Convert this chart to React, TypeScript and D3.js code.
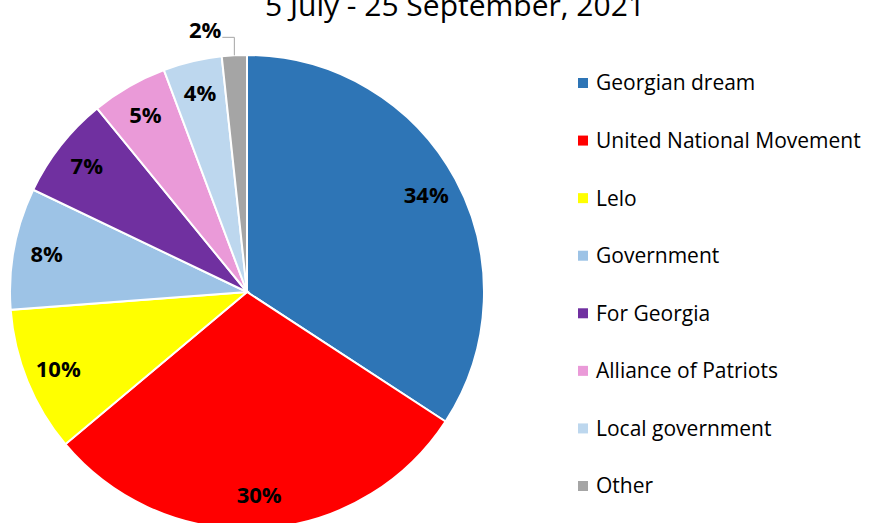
import React from "react";
import * as d3 from "d3";

const categories = [
  "Georgian dream",
  "United National Movement",
  "Lelo",
  "Government",
  "For Georgia",
  "Alliance of Patriots",
  "Local government",
  "Other",
];
const values = [34.2, 29.7, 9.9, 8.3, 7.0, 5.2, 4.0, 1.7];
const labels = ["34%", "30%", "10%", "8%", "7%", "5%", "4%", "2%"];
const colors = ["#2E75B6", "#FF0000", "#FFFF00", "#9DC3E6", "#7030A0", "#EA9AD8", "#BDD7EE", "#A5A5A5"];
const title = "5 July - 25 September, 2021";

const W = 871;
const H = 523;
const FONT = "'Open Sans', 'Noto Sans', sans-serif";

export default function App() {
  const cx = 247;
  const cy = 292;
  const r = 237;
  const data = categories.map((c, i) => ({ c, v: values[i], label: labels[i], color: colors[i] }));
  const pie = d3.pie<any>().value((d) => d.v).sort(null);
  const arcs = pie(data);
  const arc = d3.arc<any>().innerRadius(0).outerRadius(r);
  const labelArc = d3.arc<any>().innerRadius(r * 0.86).outerRadius(r * 0.86);

  const legendY = d3.scalePoint<string>().domain(categories).range([83, 486]);

  return (
    <svg width={W} height={H} style={{ position: "absolute", left: 0, top: 0, background: "#fff" }} fontFamily={FONT}>
      <text x={455} y={16} textAnchor="middle" fontSize={30} fill="#000">{title}</text>
      <g transform={`translate(${cx},${cy})`}>
        {arcs.map((a, i) => (
          <path key={i} d={arc(a) as string} fill={a.data.color} stroke="#fff" strokeWidth={2} />
        ))}
        {arcs.map((a, i) => {
          if (i === arcs.length - 1) {
            const mid = (a.startAngle + a.endAngle) / 2;
            const ex = Math.sin(mid) * r;
            const ey = -Math.cos(mid) * r;
            const ly = ey - 18;
            const lx = ex - 12;
            return (
              <g key={i}>
                <polyline points={`${ex},${ey} ${ex},${ly} ${lx},${ly}`} fill="none" stroke="#A5A5A5" strokeWidth={1} />
                <text x={lx - 1} y={ly - 7} dy="0.35em" textAnchor="end" fontSize={22} fontWeight="bold">{a.data.label}</text>
              </g>
            );
          }
          const [x, y] = labelArc.centroid(a);
          return (
            <text key={i} x={x} y={y} dy="0.35em" textAnchor="middle" fontSize={22} fontWeight="bold">{a.data.label}</text>
          );
        })}
      </g>
      <g>
        {categories.map((c, i) => (
          <g key={c} transform={`translate(578,${legendY(c)})`}>
            <rect x={0} y={-5} width={10} height={10} fill={colors[i]} />
            <text x={18} y={0} dy="0.35em" fontSize={21} fill="#000">{c}</text>
          </g>
        ))}
      </g>
    </svg>
  );
}
